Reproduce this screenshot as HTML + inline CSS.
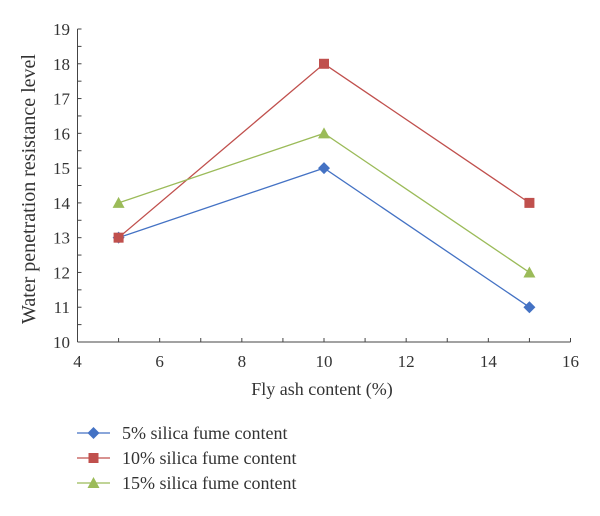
<!DOCTYPE html>
<html><head><meta charset="utf-8"><style>
body{margin:0;background:#fff;}
svg text{font-family:"Liberation Serif",serif;fill:#333;}
</style></head><body>
<svg width="600" height="511" xmlns="http://www.w3.org/2000/svg">
<g id="axes"></g><g id="series"></g><g id="legend"></g>
</svg>
<script>
const xTicks=[4,6,8,10,12,14,16];
const yTicks=[10,11,12,13,14,15,16,17,18,19];
const xVals=[5,10,15];
const s5=[13,15,11];
const s10=[13,18,14];
const s15=[14,16,12];
const names=["5% silica fume content","10% silica fume content","15% silica fume content"];
const colors=["#4472c4","#c0504d","#9bbb59"];
const shapes=["diamond","square","triangle"];
const NS="http://www.w3.org/2000/svg";
const X0=77.5,X1=570.5,Y0=342,Y1=29;
const xs=v=>X0+(v-4)/(16-4)*(X1-X0);
const ys=v=>Y0-(v-10)/(19-10)*(Y0-Y1);
function mk(t,a,p){const e=document.createElementNS(NS,t);for(const k in a)e.setAttribute(k,a[k]);p.appendChild(e);return e;}
const ax=document.getElementById('axes');
let l=mk('line',{x1:X0,y1:Y0,x2:X1,y2:Y0,stroke:'#444','stroke-width':1},ax);

l=mk('line',{x1:X0,y1:Y0,x2:X0,y2:Y1,stroke:'#444','stroke-width':1},ax);

for(let v=4;v<=16;v+=1){mk('line',{x1:xs(v),y1:Y0,x2:xs(v),y2:Y0-4,stroke:'#444'},ax);}
for(let v=10;v<=19;v+=0.5){mk('line',{x1:X0,y1:ys(v),x2:X0+4,y2:ys(v),stroke:'#444'},ax);}
xTicks.forEach(v=>{const t=mk('text',{x:xs(v),y:367,'text-anchor':'middle','font-size':17},ax);t.textContent=v;
});
yTicks.forEach(v=>{const t=mk('text',{x:70,y:ys(v)+6,'text-anchor':'end','font-size':17},ax);t.textContent=v;
});
let t=mk('text',{x:322,y:395,'text-anchor':'middle','font-size':18},ax);t.textContent="Fly ash content (%)";

t=mk('text',{x:0,y:0,'text-anchor':'middle','font-size':20,transform:'translate(35,189) rotate(-90)'},ax);t.textContent="Water penetration resistance level";

function marker(shape,x,y,c,p){
 if(shape=='diamond')return mk('path',{d:`M${x} ${y-6}L${x+6} ${y}L${x} ${y+6}L${x-6} ${y}Z`,fill:c},p);
 if(shape=='square')return mk('rect',{x:x-5,y:y-5,width:10,height:10,fill:c},p);
 return mk('path',{d:`M${x} ${y-6}L${x+6} ${y+5}L${x-6} ${y+5}Z`,fill:c},p);
}
const sg=document.getElementById('series');
[s5,s10,s15].forEach((arr,i)=>{
 const g=mk('g',{},sg);
 
 
 const pl=mk('polyline',{points:arr.map((v,j)=>xs(xVals[j])+','+ys(v)).join(' '),fill:'none',stroke:colors[i],'stroke-width':1.3},g);
 
 
 arr.forEach((v,j)=>{const m=marker(shapes[i],xs(xVals[j]),ys(v),colors[i],g);
  
  });
});
const lg=document.getElementById('legend');
const ly=[433,458,483];
names.forEach((n,i)=>{
 const g=mk('g',{},lg);
 
 
 mk('line',{x1:77,y1:ly[i],x2:110,y2:ly[i],stroke:colors[i],'stroke-width':1.3},g);
 marker(shapes[i],93.5,ly[i],colors[i],g);
 const tt=mk('text',{x:122,y:ly[i]+6,'font-size':18},g);tt.textContent=n;
});
</script>
</body></html>
